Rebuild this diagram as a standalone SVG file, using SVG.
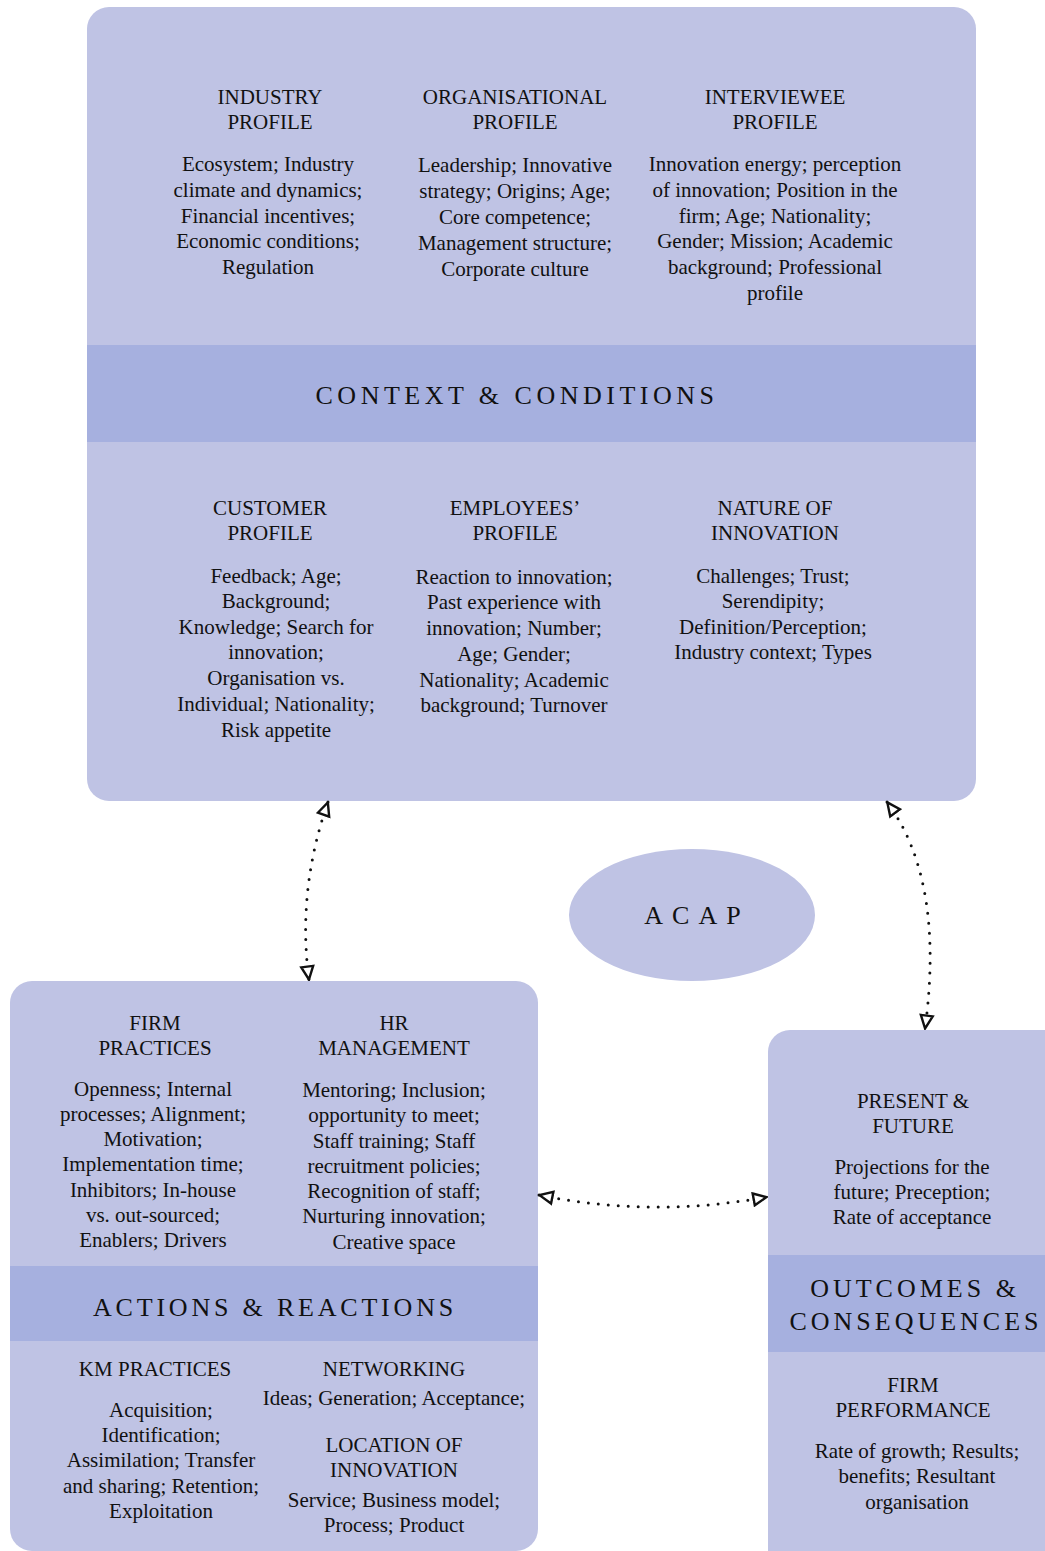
<svg xmlns="http://www.w3.org/2000/svg" width="1045" height="1551" viewBox="0 0 1045 1551">
  <style>
    .box { fill: #bfc3e4; }
    .band { fill: #a6b0df; }
    text { font-family: "Liberation Serif", "Times New Roman", serif; fill: #111; }
    .t { font-size: 21px; text-anchor: middle; }
    .title { font-size: 26px; text-anchor: middle; letter-spacing: 4px; }
    .link { fill: none; stroke: #111; stroke-width: 3; stroke-linecap: round; stroke-dasharray: 0 10; }
  </style>
  <defs>
    <marker id="tri" viewBox="0 0 16 16" refX="15" refY="8" markerWidth="16" markerHeight="16" markerUnits="userSpaceOnUse" orient="auto-start-reverse">
      <path d="M1.5,2 L14.5,8 L1.5,14 Z" fill="#fff" stroke="#111" stroke-width="2.4" stroke-linejoin="miter"/>
    </marker>
  </defs>
  <rect width="1045" height="1551" fill="#fff"/>

  <!-- Context & conditions -->
  <g id="context">
    <rect class="box" x="87" y="7" width="889" height="794" rx="22"/>
    <rect class="band" x="87" y="345" width="889" height="97"/>
    <text class="title" x="517" y="404" style="letter-spacing:4.5px">CONTEXT &amp; CONDITIONS</text>
  </g>
  <g id="industry-profile">
    <text class="t" x="270"><tspan x="270" y="104">INDUSTRY</tspan><tspan x="270" y="129">PROFILE</tspan></text>
    <text class="t"><tspan x="268" y="171">Ecosystem; Industry</tspan><tspan x="268" y="197">climate and dynamics;</tspan><tspan x="268" y="223">Financial incentives;</tspan><tspan x="268" y="248">Economic conditions;</tspan><tspan x="268" y="274">Regulation</tspan></text>
  </g>
  <g id="organisational-profile">
    <text class="t"><tspan x="515" y="104">ORGANISATIONAL</tspan><tspan x="515" y="129">PROFILE</tspan></text>
    <text class="t"><tspan x="515" y="172">Leadership; Innovative</tspan><tspan x="515" y="198">strategy; Origins; Age;</tspan><tspan x="515" y="224">Core competence;</tspan><tspan x="515" y="250">Management structure;</tspan><tspan x="515" y="276">Corporate culture</tspan></text>
  </g>
  <g id="interviewee-profile">
    <text class="t"><tspan x="775" y="104">INTERVIEWEE</tspan><tspan x="775" y="129">PROFILE</tspan></text>
    <text class="t"><tspan x="775" y="171">Innovation energy; perception</tspan><tspan x="775" y="197">of innovation; Position in the</tspan><tspan x="775" y="223">firm; Age; Nationality;</tspan><tspan x="775" y="248">Gender; Mission; Academic</tspan><tspan x="775" y="274">background; Professional</tspan><tspan x="775" y="300">profile</tspan></text>
  </g>
  <g id="customer-profile">
    <text class="t"><tspan x="270" y="515">CUSTOMER</tspan><tspan x="270" y="540">PROFILE</tspan></text>
    <text class="t"><tspan x="276" y="583">Feedback; Age;</tspan><tspan x="276" y="608">Background;</tspan><tspan x="276" y="634">Knowledge; Search for</tspan><tspan x="276" y="659">innovation;</tspan><tspan x="276" y="685">Organisation vs.</tspan><tspan x="276" y="711">Individual; Nationality;</tspan><tspan x="276" y="737">Risk appetite</tspan></text>
  </g>
  <g id="employees-profile">
    <text class="t"><tspan x="515" y="515">EMPLOYEES’</tspan><tspan x="515" y="540">PROFILE</tspan></text>
    <text class="t"><tspan x="514" y="584">Reaction to innovation;</tspan><tspan x="514" y="609">Past experience with</tspan><tspan x="514" y="635">innovation; Number;</tspan><tspan x="514" y="661">Age; Gender;</tspan><tspan x="514" y="687">Nationality; Academic</tspan><tspan x="514" y="712">background; Turnover</tspan></text>
  </g>
  <g id="nature-of-innovation">
    <text class="t"><tspan x="775" y="515">NATURE OF</tspan><tspan x="775" y="540">INNOVATION</tspan></text>
    <text class="t"><tspan x="773" y="583">Challenges; Trust;</tspan><tspan x="773" y="608">Serendipity;</tspan><tspan x="773" y="634">Definition/Perception;</tspan><tspan x="773" y="659">Industry context; Types</tspan></text>
  </g>

  <!-- Absorptive capacity -->
  <g id="acap">
    <ellipse class="box" cx="692" cy="915" rx="123" ry="66"/>
    <text class="title" x="697" y="924" style="letter-spacing:9px">ACAP</text>
  </g>

  <!-- Actions & reactions -->
  <g id="actions">
    <rect class="box" x="10" y="981" width="528" height="570" rx="22"/>
    <rect class="band" x="10" y="1266" width="528" height="75"/>
    <text class="title" x="275" y="1316" style="letter-spacing:3.8px">ACTIONS &amp; REACTIONS</text>
  </g>
  <g id="firm-practices">
    <text class="t"><tspan x="155" y="1030">FIRM</tspan><tspan x="155" y="1055">PRACTICES</tspan></text>
    <text class="t"><tspan x="153" y="1096">Openness; Internal</tspan><tspan x="153" y="1121">processes; Alignment;</tspan><tspan x="153" y="1146">Motivation;</tspan><tspan x="153" y="1171">Implementation time;</tspan><tspan x="153" y="1197">Inhibitors; In-house</tspan><tspan x="153" y="1222">vs. out-sourced;</tspan><tspan x="153" y="1247">Enablers; Drivers</tspan></text>
  </g>
  <g id="hr-management">
    <text class="t"><tspan x="394" y="1030">HR</tspan><tspan x="394" y="1055">MANAGEMENT</tspan></text>
    <text class="t"><tspan x="394" y="1097">Mentoring; Inclusion;</tspan><tspan x="394" y="1122">opportunity to meet;</tspan><tspan x="394" y="1148">Staff training; Staff</tspan><tspan x="394" y="1173">recruitment policies;</tspan><tspan x="394" y="1198">Recognition of staff;</tspan><tspan x="394" y="1223">Nurturing innovation;</tspan><tspan x="394" y="1249">Creative space</tspan></text>
  </g>
  <g id="km-practices">
    <text class="t" x="155" y="1376">KM PRACTICES</text>
    <text class="t"><tspan x="161" y="1417">Acquisition;</tspan><tspan x="161" y="1442">Identification;</tspan><tspan x="161" y="1467">Assimilation; Transfer</tspan><tspan x="161" y="1493">and sharing; Retention;</tspan><tspan x="161" y="1518">Exploitation</tspan></text>
  </g>
  <g id="networking">
    <text class="t" x="394" y="1376">NETWORKING</text>
    <text class="t" x="394" y="1405">Ideas; Generation; Acceptance;</text>
  </g>
  <g id="location-of-innovation">
    <text class="t"><tspan x="394" y="1452">LOCATION OF</tspan><tspan x="394" y="1477">INNOVATION</tspan></text>
    <text class="t"><tspan x="394" y="1507">Service; Business model;</tspan><tspan x="394" y="1532">Process; Product</tspan></text>
  </g>

  <!-- Outcomes & consequences -->
  <g id="outcomes">
    <rect class="box" x="768" y="1030" width="310" height="560" rx="22"/>
    <rect class="band" x="768" y="1255" width="310" height="97"/>
    <text class="title"><tspan x="915" y="1297">OUTCOMES &amp;</tspan><tspan x="916" y="1330">CONSEQUENCES</tspan></text>
  </g>
  <g id="present-future">
    <text class="t"><tspan x="913" y="1108">PRESENT &amp;</tspan><tspan x="913" y="1133">FUTURE</tspan></text>
    <text class="t"><tspan x="912" y="1174">Projections for the</tspan><tspan x="912" y="1199">future; Preception;</tspan><tspan x="912" y="1224">Rate of acceptance</tspan></text>
  </g>
  <g id="firm-performance">
    <text class="t"><tspan x="913" y="1392">FIRM</tspan><tspan x="913" y="1417">PERFORMANCE</tspan></text>
    <text class="t"><tspan x="917" y="1458">Rate of growth; Results;</tspan><tspan x="917" y="1483">benefits; Resultant</tspan><tspan x="917" y="1509">organisation</tspan></text>
  </g>

  <!-- Two-way links between the three blocks -->
  <g id="connectors">
    <path class="link" d="M328,802 Q297,890 309,980" marker-start="url(#tri)" marker-end="url(#tri)"/>
    <path class="link" d="M887,802 Q945,880 925,1029" marker-start="url(#tri)" marker-end="url(#tri)"/>
    <path class="link" d="M539,1195 Q652,1218 767,1197" marker-start="url(#tri)" marker-end="url(#tri)"/>
  </g>
</svg>
